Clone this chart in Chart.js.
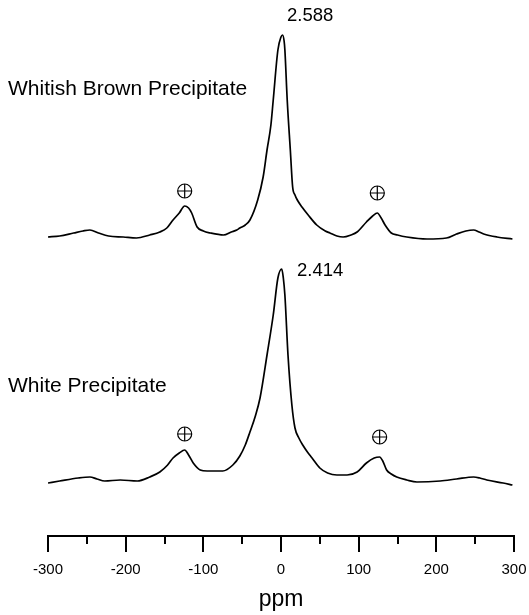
<!DOCTYPE html>
<html>
<head>
<meta charset="utf-8">
<script src="https://cdn.jsdelivr.net/npm/chart.js@4.4.1/dist/chart.umd.min.js"></script>
<style>
  html, body { margin: 0; padding: 0; background: #fff; }
  #box { width: 529px; height: 615px; }
</style>
</head>
<body>
<div id="box"><canvas id="nmr"></canvas></div>
<script>
// Spectrum data (shift in ppm, intensity in arbitrary units above baseline)
const topShift = [-300, -285, -267, -255, -246, -235, -222, -203, -186, -169, -156, -147, -139, -131, -124, -119, -115, -108, -100, -91, -74, -64, -57, -53, -46, -40, -30, -23, -18, -13, -10, -4, 0, 2, 4, 5, 8, 12, 15, 18, 21, 27, 35, 46, 57, 63, 72, 80, 90, 98, 110, 118, 124, 129, 134, 142, 150, 162, 188, 213, 226, 238, 248, 255, 261, 278, 298];
const topIntensity = [0, 1, 4, 6, 7, 4, 1, 0, -1, 2, 5, 9, 17, 24, 31, 29, 24, 10, 6, 4, 2, 5, 7, 9, 12, 17, 37, 60, 87, 112, 137, 187, 200, 202, 196, 187, 137, 87, 50, 42, 37, 30, 22, 12, 6, 4, 1, 0, 2, 5, 15, 21, 24, 19, 12, 4, 2, 0, -2, -1, 3, 6, 7, 5, 3, 0, -2];

const bottomShift = [-300, -285, -261, -246, -237, -227, -207, -185, -169, -156, -146, -139, -131, -124, -119, -113, -104, -95, -88, -75, -62, -53, -46, -40, -33, -27, -18, -10, -4, 1, 3, 5, 9, 14, 18, 23, 28, 34, 40, 50, 60, 72, 85, 98, 110, 120, 127, 131, 136, 142, 149, 162, 175, 205, 226, 248, 256, 265, 286, 298];
const bottomIntensity = [0, 2, 5, 6, 4, 2, 3, 2, 6, 11, 18, 25, 30, 33, 28, 20, 13, 12, 12, 12, 18, 27, 38, 51, 67, 85, 128, 168, 205, 214, 205, 188, 128, 78, 55, 45, 38, 31, 25, 15, 10, 8, 8, 11, 20, 25, 26, 22, 13, 9, 6, 3, 1, 2, 4, 6, 5, 3, 0, -2];

// spinning sideband markers
const topMarkerShift = [-124, 124];
const topMarkerLevel = [46, 44];
const bottomMarkerShift = [-124, 127];
const bottomMarkerLevel = [49, 46];

// axis ticks
const majorTicks = [-300, -200, -100, 0, 100, 200, 300];
const minorTicks = [-250, -150, -50, 50, 150, 250];

const FONT = "'Liberation Sans', Arial, sans-serif";

function points(xs, ys) {
    return xs.map((x, i) => ({ x: x, y: ys[i] }));
}

// texts drawn over the plot
const notes = [
    { text: 'Whitish Brown Precipitate', x: 8, y: 95, size: 21 },
    { text: '2.588', x: 287, y: 21, size: 18.5 },
    { text: 'White Precipitate', x: 8, y: 392, size: 21 },
    { text: '2.414', x: 297, y: 276, size: 18.5 }
];

const extras = {
    id: 'extras',
    afterDraw(chart) {
        const ctx = chart.ctx;
        const xs = chart.scales.x;
        ctx.save();
        // short minor ticks
        ctx.strokeStyle = '#000';
        ctx.lineWidth = 2;
        minorTicks.forEach(v => {
            const px = Math.round(xs.getPixelForValue(v));
            ctx.beginPath();
            ctx.moveTo(px, xs.top);
            ctx.lineTo(px, xs.top + 8);
            ctx.stroke();
        });
        ctx.fillStyle = '#000';
        ctx.textBaseline = 'alphabetic';
        ctx.textAlign = 'left';
        notes.forEach(n => {
            ctx.font = n.size + 'px ' + FONT;
            ctx.fillText(n.text, n.x, n.y);
        });
        ctx.restore();
    }
};

const lineStyle = {
    type: 'line',
    borderColor: '#000',
    borderWidth: 1.7,
    pointRadius: 0,
    fill: false,
    cubicInterpolationMode: 'monotone'
};

const markStyle = {
    type: 'scatter',
    borderColor: '#000',
    backgroundColor: 'rgba(0,0,0,0)',
    borderWidth: 1.2,
    pointRadius: 7
};

const config = {
    data: {
        datasets: [
            Object.assign({ label: 'Whitish Brown Precipitate', data: points(topShift, topIntensity), yAxisID: 'yTop' }, lineStyle),
            Object.assign({ label: 'White Precipitate', data: points(bottomShift, bottomIntensity), yAxisID: 'yBot' }, lineStyle),
            Object.assign({ data: points(topMarkerShift, topMarkerLevel), yAxisID: 'yTop', pointStyle: 'circle' }, markStyle),
            Object.assign({ data: points(topMarkerShift, topMarkerLevel), yAxisID: 'yTop', pointStyle: 'cross' }, markStyle),
            Object.assign({ data: points(bottomMarkerShift, bottomMarkerLevel), yAxisID: 'yBot', pointStyle: 'circle' }, markStyle),
            Object.assign({ data: points(bottomMarkerShift, bottomMarkerLevel), yAxisID: 'yBot', pointStyle: 'cross' }, markStyle)
        ]
    },
    options: {
        responsive: true,
        maintainAspectRatio: false,
        animation: false,
        devicePixelRatio: 1,
        layout: { autoPadding: false, padding: { left: 48, right: 15, top: 0, bottom: 0 } },
        plugins: {
            legend: { display: false },
            tooltip: { enabled: false }
        },
        scales: {
            x: {
                type: 'linear',
                position: 'bottom',
                min: -300,
                max: 300,
                afterFit: function (scale) {
                    scale.height = 79; // keeps the axis line where the figure has it
                    scale.paddingLeft = 0;
                    scale.paddingRight = 0;
                },
                border: { display: true, color: '#000', width: 2 },
                grid: {
                    drawOnChartArea: false,
                    drawTicks: true,
                    tickLength: 16,
                    lineWidth: 2,
                    color: ctx => (ctx.tick && majorTicks.includes(ctx.tick.value)) ? '#000' : 'rgba(0,0,0,0)'
                },
                ticks: {
                    stepSize: 50,
                    autoSkip: false,
                    maxRotation: 0,
                    padding: 9,
                    color: '#000',
                    font: { family: FONT, size: 15 },
                    callback: v => majorTicks.includes(v) ? String(v) : ''
                },
                title: {
                    display: true,
                    text: 'ppm',
                    color: '#000',
                    font: { family: FONT, size: 23 },
                    padding: { top: 0, bottom: 2 }
                }
            },
            yTop: { display: false, min: -299, max: 237 },
            yBot: { display: false, min: -53, max: 483 }
        }
    },
    plugins: [extras]
};

new Chart(document.getElementById('nmr'), config);
</script>
</body>
</html>
